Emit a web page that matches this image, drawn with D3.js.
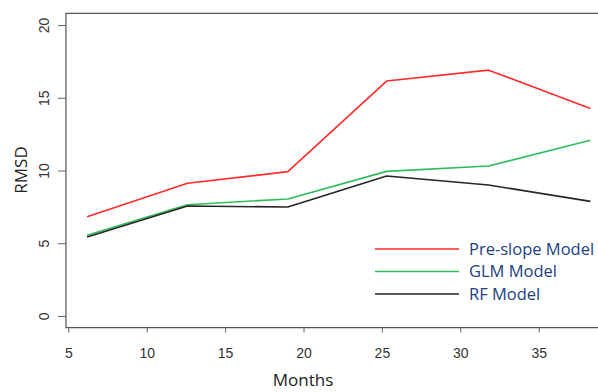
<!DOCTYPE html>
<html>
<head>
<meta charset="utf-8">
<script src="https://cdn.jsdelivr.net/npm/d3@7"></script>
<style>
  body { margin: 0; background: #fff; }
  svg { display: block; font-family: "Open Sans", "Noto Sans", sans-serif; }
</style>
</head>
<body>
<script>
// Data (x in axis units, y = RMSD)
const months = [6.2, 12.6, 19.0, 25.3, 31.8, 38.3];
const preSlope = [6.82, 9.12, 9.92, 16.15, 16.9, 14.27];
const glm = [5.55, 7.65, 8.04, 9.94, 10.31, 12.08];
const rf = [5.43, 7.56, 7.49, 9.62, 9.0, 7.88];
const xTicks = [5, 10, 15, 20, 25, 30, 35];
const yTicks = [0, 5, 10, 15, 20];

const series = [
  { name: 'Pre-slope Model', values: preSlope, color: '#ff2a2a' },
  { name: 'GLM Model', values: glm, color: '#2dbd5a' },
  { name: 'RF Model', values: rf, color: '#262626' },
];

const width = 598;
const height = 392;

const x = d3.scaleLinear().domain([5, 35]).range([68.3, 538.7]);
const y = d3.scaleLinear().domain([-0.8, 20.8]).range([327.6, 13.4]);

const svg = d3.select('body')
  .append('svg')
  .attr('width', width)
  .attr('height', height);

// Plot box (right edge is cut off)
svg.append('path')
  .attr('d', `M${width + 5},${y(20.8)} H${x(4.85)} V${y(-0.8)} H${width + 5}`)
  .attr('fill', 'none')
  .attr('stroke', '#555')
  .attr('stroke-width', 1.2);

// Y axis
const yAxis = svg.append('g')
  .attr('transform', `translate(${x(4.85)},0)`)
  .call(d3.axisLeft(y).tickValues(yTicks).tickSize(8).tickSizeOuter(0));
yAxis.select('.domain').remove();
yAxis.selectAll('.tick line').attr('stroke', '#666');
yAxis.selectAll('.tick text')
  .attr('x', 0).attr('y', 0).attr('dy', '0.35em')
  .attr('text-anchor', 'middle')
  .attr('transform', 'translate(-22,0) rotate(-90)')
  .style('font-size', '14px')
  .attr('fill', '#333');

// X axis
const xAxis = svg.append('g')
  .attr('transform', `translate(0,${y(-0.8)})`)
  .call(d3.axisBottom(x).tickValues(xTicks).tickSize(5).tickSizeOuter(0));
xAxis.select('.domain').remove();
xAxis.selectAll('.tick line').attr('stroke', '#666');
xAxis.selectAll('.tick text')
  .attr('y', 20)
  .style('font-size', '14px')
  .attr('fill', '#333');

// Axis titles
svg.append('text')
  .attr('x', 303)
  .attr('y', 386)
  .attr('text-anchor', 'middle')
  .style('font-size', '17px')
  .attr('fill', '#222')
  .text('Months');

svg.append('text')
  .attr('transform', 'translate(27,170) rotate(-90)')
  .attr('text-anchor', 'middle')
  .style('font-size', '17px')
  .attr('fill', '#222')
  .text('RMSD');

// Lines
const line = d3.line()
  .x((d, i) => x(months[i]))
  .y(d => y(d));

svg.selectAll('.series')
  .data(series)
  .enter()
  .append('path')
  .attr('class', 'series')
  .attr('d', d => line(d.values))
  .attr('fill', 'none')
  .attr('stroke', d => d.color)
  .attr('stroke-width', 1.6)
  .attr('stroke-linejoin', 'round');

// Legend
const leg = svg.append('g')
  .attr('transform', 'translate(375,249)');

const legItem = leg.selectAll('g')
  .data(series)
  .enter()
  .append('g')
  .attr('transform', (d, i) => `translate(0,${i * 22.5})`);

legItem.append('line')
  .attr('x1', 0).attr('x2', 84)
  .attr('stroke', d => d.color)
  .attr('stroke-width', 1.6);

legItem.append('text')
  .attr('x', 94)
  .attr('dy', '0.35em')
  .style('font-size', '16.5px')
  .attr('fill', '#23407f')
  .text(d => d.name);
</script>
</body>
</html>
